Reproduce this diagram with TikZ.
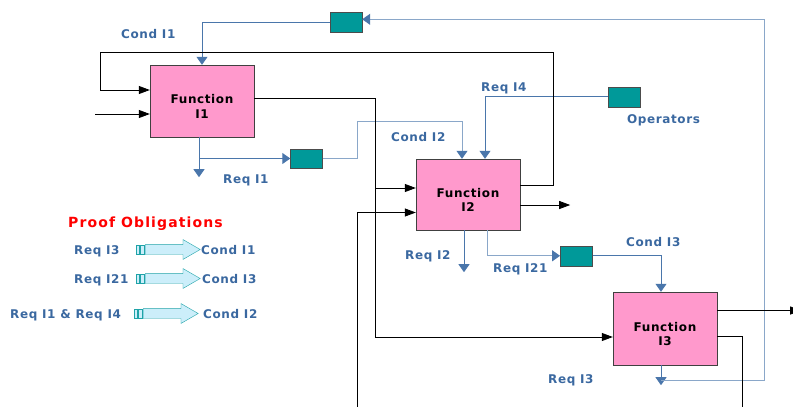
\documentclass[tikz,border=0pt]{standalone}
\usepackage{fontspec}
\setmainfont{DejaVu Sans}
\newfontfamily\lblfont[LetterSpace=5]{DejaVu Sans}
\newfontfamily\headfont[LetterSpace=8]{DejaVu Sans}
\usepackage{xcolor}
\usepackage{tikz}
\usetikzlibrary{positioning, arrows.meta, shapes.arrows}

\definecolor{fnpink}{HTML}{FF99CC}
\definecolor{stteal}{HTML}{009999}
\definecolor{lnblue}{HTML}{4A76AB}
\definecolor{lnpale}{HTML}{8AA7C9}
\definecolor{txblue}{HTML}{3A68A0}
\definecolor{poline}{HTML}{1FA3A8}
\definecolor{pofill}{HTML}{CCEEFA}

\begin{document}
\begin{tikzpicture}[
  x=1pt, y=-1pt,
  every node/.style={font=\lblfont\bfseries\fontsize{12}{14}\selectfont},
  fbox/.style={rectangle, draw=black!75, fill=fnpink, minimum width=104pt,
               minimum height=72pt, inner sep=0pt},
  ftext/.style={align=center, inner sep=0pt,
                font=\lblfont\bfseries\fontsize{12}{14.4}\selectfont},
  sbox/.style={rectangle, draw=black!70, fill=stteal, minimum width=32pt,
               minimum height=20pt, inner sep=0pt},
  lbl/.style={anchor=base west, text=txblue, inner sep=0pt},
  barr/.style={-{Triangle[length=8pt,width=11pt]}, draw=lnblue, line width=1pt},
  barrp/.style={-{Triangle[length=8pt,width=11pt,color=lnblue]}, draw=lnpale, line width=1pt},
  karr/.style={-{Triangle[length=11pt,width=8pt]}, line width=0.8pt},
  kline/.style={line width=0.8pt},
  pobarrow/.style={single arrow, draw=poline, fill=pofill, anchor=west,
                   minimum height=55pt, inner xsep=0pt, inner ysep=4.75pt,
                   single arrow head extend=5pt, single arrow tip angle=60},
  postripe/.style={draw=poline, fill=pofill, line width=0.8pt}
]
\useasboundingbox (0,0) rectangle (793,407);
% ── Functions and stores ───────────────────────
\node[fbox] (f1) at (202,101) {};
\node[fbox, minimum height=71pt] (f2) at (468,194.5) {};
\node[fbox, minimum height=73pt] (f3) at (665,328.5) {};
\node[ftext] (f1t) at ([yshift=-5.5pt]f1.center) {Function\\I1};
\node[ftext] (f2t) at ([yshift=-5.5pt]f2.center) {Function\\I2};
\node[ftext] (f3t) at ([yshift=-5.5pt]f3.center) {Function\\I3};
\node[sbox] (t1) at (346,22.3) {};
\node[sbox, minimum height=19pt] (t2) at (306.5,158.5) {};
\node[sbox] (t3) at (623.7,96.7) {};
\node[sbox] (t4) at (576.3,255.8) {};
% ── Blue flows ─────────────────────────────────
\draw[barr] (t1.west) -| (f1.north);
\draw[barr] ([xshift=-3pt]f1.south) -- ++(0,40);
\draw[barr] ([xshift=-3pt]f1.south) |- (t2.west);
\draw[barrp] (t2.east) -| ++(35,-37.5) -| ([xshift=-6pt]f2.north);
\draw[barr] (t3.west) -| ([xshift=17pt]f2.north);
\draw[barr] ([xshift=-4pt]f2.south) -- ++(0,42);
\draw[barrp] ([xshift=19pt]f2.south) |- (t4.west);
\draw[barr] (t4.east) -| ([xshift=-4pt]f3.north);
\draw[barr] ([xshift=-4pt]f3.south) -- ++(0,20);
\coordinate (r3) at ([xshift=-4pt,yshift=-15pt]f3.south);
\draw[barrp] (r3) -- ++(103,0) |- ([yshift=3pt]t1.east);
% ── Black flows ────────────────────────────────
\coordinate (sp) at (375,188);
\coordinate (lpa) at (553,52);
\coordinate (lpb) at (100,52);
\coordinate (in1) at (95,114);
\coordinate (in2) at (357,408);
\coordinate (out3) at (742,408);
\draw[kline] ([yshift=3pt]f1.east) -| (sp);
\draw[karr] (sp) -- (sp -| f2.west);
\draw[karr] (sp) |- ([yshift=-8.5pt]f3.west);
\draw[karr] ([yshift=9.5pt]f2.east) -| (lpa) -- (lpb) |- ([yshift=11pt]f1.west);
\draw[karr] (in1) -- (in1 -| f1.west);
\draw[karr] ([yshift=-10.5pt]f2.east) -- ++(50,0);
\draw[karr] (in2) |- ([yshift=-18pt]f2.west);
\draw[karr] ([yshift=18pt]f3.east) -- ++(84,0);
\draw[kline] ([yshift=-7.5pt]f3.east) -| (out3);
% ── Labels ─────────────────────────────────────
\node[lbl] (lc1) at (121,38) {Cond I1};
\node[lbl] (lr1) at (223,183.5) {Req I1};
\node[lbl] (lc2) at (391,141.5) {Cond I2};
\node[lbl] (lr4) at (481,91.5) {Req I4};
\node[lbl] (lop) at (627,123.5) {Operators};
\node[lbl] (lr2) at (405,259) {Req I2};
\node[lbl] (lr21) at (493,272) {Req I21};
\node[lbl] (lc3) at (626,246) {Cond I3};
\node[lbl] (lr3) at (548,383.5) {Req I3};
% ── Proof obligations ──────────────────────────
\node[anchor=base west, inner sep=0pt, text=red,
      font=\headfont\bfseries\fontsize{14}{16}\selectfont] (po) at (68,227) {Proof Obligations};
\node[lbl] (q1) at (74,254) {Req I3};
\node[pobarrow] (a1) at (145,249.5) {};
\node[lbl] (c1) at (201,254) {Cond I1};
\node[lbl] (q2) at (74,283) {Req I21};
\node[pobarrow] (a2) at (145,278.5) {};
\node[lbl] (c2) at (202,283) {Cond I3};
\node[lbl] (q3) at (10,318) {Req I1 \& Req I4};
\node[pobarrow] (a3) at (143,313.5) {};
\node[lbl] (c3) at (203,318) {Cond I2};
\foreach \a in {a1,a2,a3} {
  \draw[postripe] ([shift={(-9,-4.5)}]\a.west) rectangle ++(3.5,9);
  \draw[postripe] ([shift={(-4.5,-4.5)}]\a.west) rectangle ++(3.5,9);
}
\end{tikzpicture}
\end{document}
